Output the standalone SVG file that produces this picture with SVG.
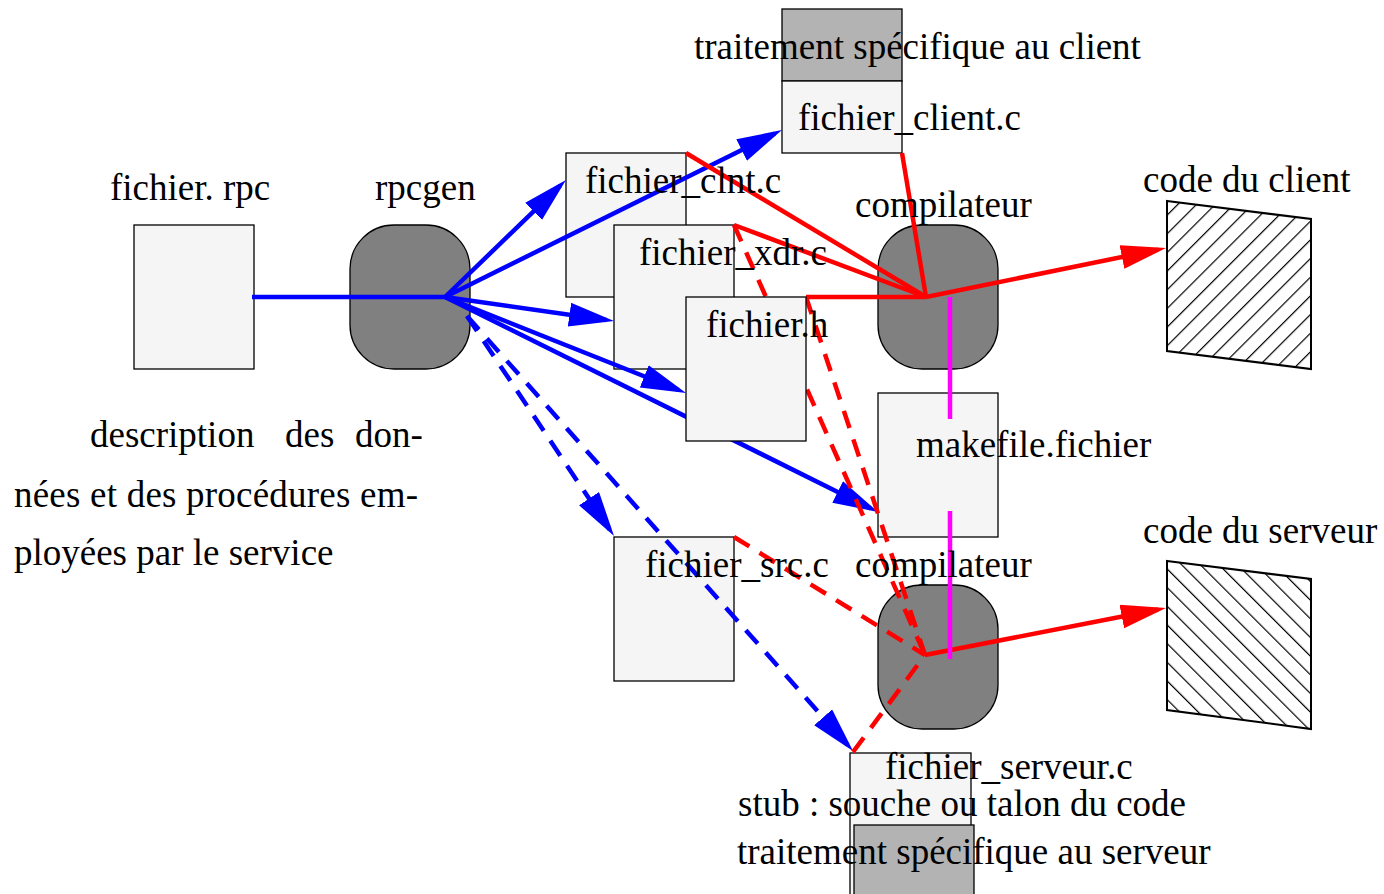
<svg xmlns="http://www.w3.org/2000/svg" width="1384" height="894" viewBox="0 0 1384 894">
<style>
  text { font-family: "Liberation Serif", "Times New Roman", serif; font-size: 37px; fill: #000; }
  .file { fill: #f5f5f5; stroke: #000; stroke-width: 1.3; }
  .dark { fill: #b3b3b3; stroke: #000; stroke-width: 1.3; }
  .proc { fill: #808080; stroke: #000; stroke-width: 1.3; }
  .blue { stroke: #0000ff; stroke-width: 4.5; fill: none; }
  .red { stroke: #ff0000; stroke-width: 4.5; fill: none; }
  .mag { stroke: #ff00ff; stroke-width: 4.5; fill: none; }
  .dash { stroke-dasharray: 18 12; }
</style>
<defs>
  <marker id="ab" markerUnits="userSpaceOnUse" markerWidth="46" markerHeight="26" refX="37" refY="12" orient="auto">
    <path d="M0,0 L45,12 L0,24 z" fill="#0000ff"/>
  </marker>
  <marker id="ar" markerUnits="userSpaceOnUse" markerWidth="46" markerHeight="26" refX="37" refY="12" orient="auto">
    <path d="M0,0 L45,12 L0,24 z" fill="#ff0000"/>
  </marker>
  <pattern id="hatchC" patternUnits="userSpaceOnUse" width="13.2" height="20" patternTransform="rotate(45)">
    <line x1="0" y1="0" x2="0" y2="20" stroke="#000" stroke-width="2.4"/>
  </pattern>
  <pattern id="hatchS" patternUnits="userSpaceOnUse" width="13.2" height="20" patternTransform="rotate(-45)">
    <line x1="0" y1="0" x2="0" y2="20" stroke="#000" stroke-width="2.4"/>
  </pattern>
</defs>

<g id="node-rpc">
  <rect class="file" x="134" y="225" width="120" height="144"/>
  <text x="110" y="200">fichier. rpc</text>
</g>
<g id="node-rpcgen">
  <rect class="proc" x="350" y="225" width="120" height="144" rx="44" ry="44"/>
  <text x="375" y="200">rpcgen</text>
</g>
<g id="node-description">
  <text y="447"><tspan x="90">description</tspan><tspan x="285">des</tspan><tspan x="355">don-</tspan></text>
  <text x="14" y="507" textLength="404" lengthAdjust="spacing">nées et des procédures em-</text>
  <text x="14" y="565">ployées par le service</text>
</g>
<g id="node-clnt">
  <rect class="file" x="566" y="153" width="120" height="144"/>
</g>
<g id="node-xdr">
  <rect class="file" x="614" y="225" width="120" height="144"/>
</g>
<g id="node-client">
  <rect class="dark" x="782" y="9" width="120" height="72"/>
  <rect class="file" x="782" y="81" width="120" height="72"/>
</g>
<g id="node-comp-client">
  <rect class="proc" x="878" y="225" width="120" height="144" rx="44" ry="44"/>
</g>
<g id="node-makefile">
  <rect class="file" x="878" y="393" width="120" height="144"/>
</g>
<g id="node-src">
  <rect class="file" x="614" y="537" width="120" height="144"/>
</g>
<g id="node-comp-server">
  <rect class="proc" x="878" y="585" width="120" height="144" rx="44" ry="44"/>
</g>
<g id="node-serveur">
  <rect class="file" x="850" y="753" width="121" height="150"/>
  <rect class="dark" x="854" y="825" width="120" height="80"/>
</g>
<g id="node-code-client">
  <polygon points="1167,201 1311,219 1311,369 1167,351" fill="#fff"/>
  <polygon points="1167,201 1311,219 1311,369 1167,351" fill="url(#hatchC)" stroke="#000" stroke-width="2"/>
  <text x="1143" y="192">code du client</text>
</g>
<g id="node-code-server">
  <polygon points="1167,561 1311,579 1311,729 1167,710" fill="#fff"/>
  <polygon points="1167,561 1311,579 1311,729 1167,710" fill="url(#hatchS)" stroke="#000" stroke-width="2"/>
  <text x="1143" y="543">code du serveur</text>
</g>

<g id="connectors">
  <path class="blue" d="M252,297 L445,297"/>
  <path class="blue" d="M445,297 L560.2,185.6" marker-end="url(#ab)"/>
  <path class="blue" d="M445,297 L774.8,133.6" marker-end="url(#ab)"/>
  <path class="blue" d="M445,297 L606.1,319.9" marker-end="url(#ab)"/>
  <path class="blue" d="M445,297 L678.6,390" marker-end="url(#ab)"/>
  <path class="blue" d="M445,297 L870.8,508.4" marker-end="url(#ab)"/>
  <path class="blue dash" d="M467,316 L609.6,529.4" marker-end="url(#ab)"/>
  <path class="blue dash" d="M467,316 L847.7,745" marker-end="url(#ab)"/>

  <path class="red" d="M686,153 L926,297"/>
  <path class="red" d="M734,225 L926,297"/>
  <path class="red" d="M806,297 L926,297"/>
  <path class="red" d="M902,153 L926,297"/>
  <path class="red" d="M926,297 L1158.2,249.6" marker-end="url(#ar)"/>

  <path class="red dash" d="M734,537 L925,655"/>
  <path class="red dash" d="M734,225 L925,655"/>
  <path class="red dash" d="M806,297 L925,655"/>
  <path class="red dash" d="M853,752 L925,655"/>
  <path class="red" d="M925,655 L1158.1,609.5" marker-end="url(#ar)"/>

  <path class="mag" d="M950,297 L950,419"/>
  <path class="mag" d="M950,511 L950,659"/>
</g>

<g id="node-h">
  <rect class="file" x="686" y="297" width="120" height="144"/>
</g>

<g id="labels">
  <text x="585" y="193">fichier_clnt.c</text>
  <text x="639" y="265">fichier_xdr.c</text>
  <text x="706" y="337">fichier.h</text>
  <text x="694" y="59">traitement spécifique au client</text>
  <text x="798" y="130">fichier_client.c</text>
  <text x="855" y="217">compilateur</text>
  <text x="916" y="457">makefile.fichier</text>
  <text x="645" y="577">fichier_src.c</text>
  <text x="855" y="577">compilateur</text>
  <text x="885" y="779">fichier_serveur.c</text>
  <text x="738" y="816">stub : souche ou talon du code</text>
  <text x="737" y="864">traitement spécifique au serveur</text>
</g>
</svg>
